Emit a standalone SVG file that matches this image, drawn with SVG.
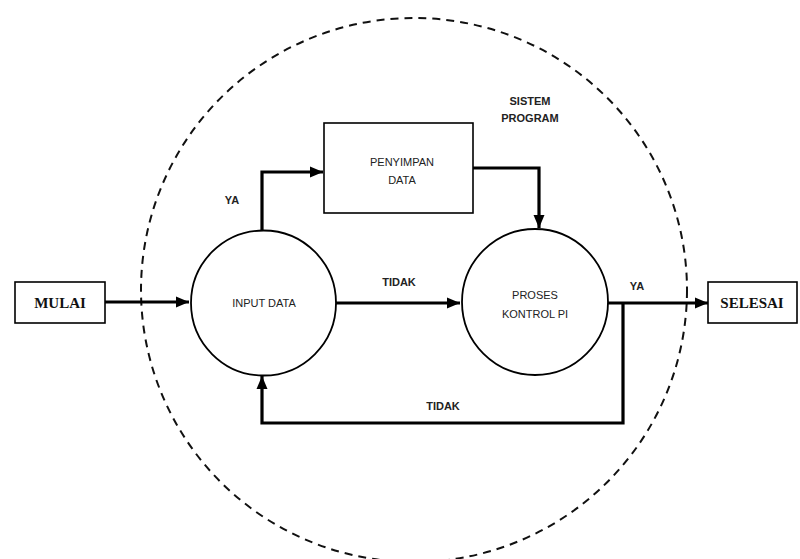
<svg xmlns="http://www.w3.org/2000/svg" width="800" height="559" viewBox="0 0 800 559">
<style>
.box{fill:#fff;stroke:#000;stroke-width:1.6}
.circ{fill:#fff;stroke:#000;stroke-width:1.8}
.conn{fill:none;stroke:#000;stroke-width:3.2;stroke-linejoin:miter}
.t{font-family:"Liberation Sans",Arial,sans-serif;font-size:11px;fill:#222;text-anchor:middle}
.b{font-weight:bold}
.serif{font-family:"Liberation Serif","Times New Roman",serif;font-size:15px;font-weight:bold;fill:#111;text-anchor:middle}
</style>
<defs>
<marker id="ah" markerUnits="userSpaceOnUse" markerWidth="14" markerHeight="14" viewBox="0 0 14 14" refX="13" refY="7" orient="auto">
<path d="M0,1.5 L13,7 L0,12.5 Z" fill="#000"/>
</marker>
</defs>
<rect width="800" height="559" fill="#fff"/>
<g id="boundary">
<ellipse cx="414" cy="290" rx="273" ry="272" fill="none" stroke="#111" stroke-width="2" stroke-dasharray="8 6"/>
<text class="t b" x="530" y="105" font-size="10.5">SISTEM</text>
<text class="t b" x="530" y="122" font-size="10.5">PROGRAM</text>
</g>
<g id="connectors">
<line class="conn" x1="105" y1="302" x2="189" y2="302" marker-end="url(#ah)"/>
<polyline class="conn" points="262,231 262,172 323,172" marker-end="url(#ah)"/>
<polyline class="conn" points="473,168 539,168 539,228" marker-end="url(#ah)"/>
<line class="conn" x1="336" y1="303" x2="460" y2="303" marker-end="url(#ah)"/>
<line class="conn" x1="608" y1="303" x2="708" y2="303" marker-end="url(#ah)"/>
<polyline class="conn" points="623,303 623,423 262,423 262,376" marker-end="url(#ah)"/>
<text class="t b" x="232" y="204">YA</text>
<text class="t b" x="399" y="286">TIDAK</text>
<text class="t b" x="637" y="290">YA</text>
<text class="t b" x="443" y="410">TIDAK</text>
</g>
<g id="mulai">
<rect class="box" x="15" y="282" width="90" height="41"/>
<text class="serif" x="60" y="308">MULAI</text>
</g>
<g id="input-data">
<circle class="circ" cx="263.5" cy="303" r="72.5"/>
<text class="t" x="264" y="307">INPUT DATA</text>
</g>
<g id="penyimpan-data">
<rect class="box" x="324" y="123" width="149" height="90"/>
<text class="t" x="402" y="166">PENYIMPAN</text>
<text class="t" x="402" y="184">DATA</text>
</g>
<g id="proses-kontrol">
<circle class="circ" cx="535" cy="302" r="73"/>
<text class="t" x="535" y="299" font-size="11.5">PROSES</text>
<text class="t" x="535" y="318" font-size="11.5">KONTROL PI</text>
</g>
<g id="selesai">
<rect class="box" x="708" y="282" width="89" height="41"/>
<text class="serif" x="752" y="308">SELESAI</text>
</g>
</svg>
